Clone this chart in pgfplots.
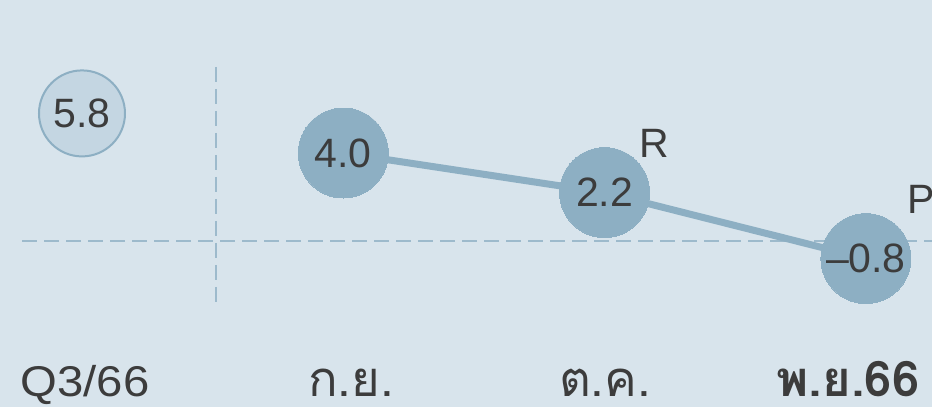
\documentclass[border=0pt]{standalone}
\usepackage{pgfplots}
\pgfplotsset{compat=1.18}
\usepackage{fontspec}
\setmainfont{Liberation Sans}
\newfontfamily\labelfont[FakeStretch=1.1]{Liberation Sans}
\newfontfamily\thaifont[Script=Thai]{Loma}
\definecolor{bg}{HTML}{D8E4EC}
\definecolor{dot}{HTML}{8DAFC3}
\definecolor{dotlight}{HTML}{C4D6E2}
\definecolor{dashcol}{HTML}{9DBACC}
\definecolor{txt}{HTML}{3C3C3C}
\tikzset{catlab/.style={anchor=base, inner sep=0pt, text=txt, text depth=0pt}}
\begin{document}
\begin{tikzpicture}[x=1pt,y=1pt]
\useasboundingbox (0,0) rectangle (932,407);
\clip (0,0) rectangle (932,407);
\fill[bg] (0,0) rectangle (932,407);
\begin{axis}[
  at={(0,0)}, anchor=south west,
  scale only axis, width=932pt, height=407pt,
  xmin=-0.3138, xmax=3.253, ymin=-7.545, ymax=10.955,
  axis line style={draw=none}, tick style={draw=none},
  ytick=\empty, xtick=\empty,
  clip=false,
  every node near coord/.style={anchor=center, font=\fontsize{41}{44}\selectfont, text=txt},
]
\addplot[dashcol, line width=2pt, dash pattern=on 15pt off 7pt] coordinates {(-0.2296,0) (3.3,0)};
\addplot[dashcol, line width=2pt, dash pattern=on 15pt off 7pt] coordinates {(0.5128,7.91) (0.5128,-2.77)};
\addplot[dot, line width=7pt, mark=*, mark size=45pt, mark options={fill=dot, draw=none, line width=0pt},
  nodes near coords, point meta=explicit symbolic] coordinates {(1,4.0) [4.0] (2,2.2) [2.2] (3,-0.8) [\textendash0.8]};
\addplot[only marks, mark=*, mark size=43pt, mark options={fill=dotlight, draw=dot, line width=2pt},
  nodes near coords, point meta=explicit symbolic] coordinates {(0,5.8) [5.8]};
\node[anchor=base west, font=\fontsize{41}{44}\selectfont, text=txt, inner sep=0pt] at (axis cs:2.1317,3.818) {R};
\node[anchor=base west, font=\fontsize{41}{44}\selectfont, text=txt, inner sep=0pt] at (axis cs:3.157,1.273) {P};
\node[catlab, font=\labelfont\fontsize{43}{46}\selectfont] at (axis cs:0.0115,-7.09) {Q3/66};
\node[catlab, font=\thaifont\fontsize{49}{52}\selectfont] at (axis cs:1.0295,-7.09) {ก.ย.};
\node[catlab, font=\thaifont\fontsize{49}{52}\selectfont] at (axis cs:2.0015,-7.09) {ต.ค.};
\node[catlab, font=\thaifont\bfseries\fontsize{49}{52}\selectfont] at (axis cs:2.9315,-7.09) {พ.ย.66};
\end{axis}
\end{tikzpicture}
\end{document}
